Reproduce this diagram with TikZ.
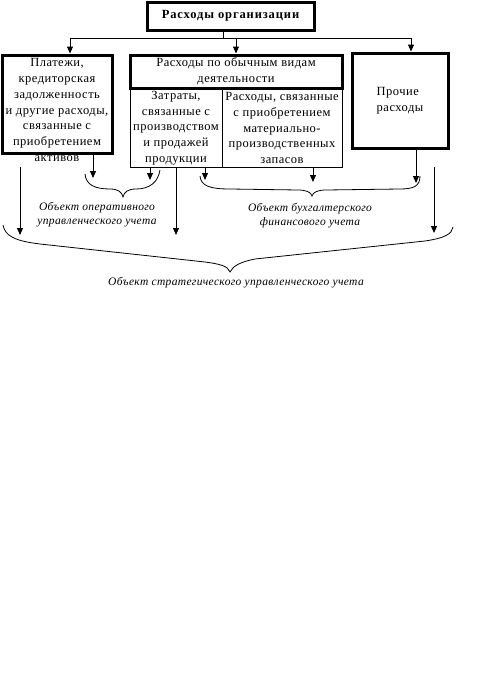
\documentclass[tikz,border=0pt]{standalone}
\usepackage{fontspec}
\setmainfont{Liberation Serif}
\usetikzlibrary{arrows.meta}

\tikzset{
  thickbox/.style={draw, line width=3pt, inner sep=0pt},
  thinbox/.style={draw, line width=1pt, inner sep=0pt},
  boxtext/.style={align=center, font=\fontsize{12.5}{15.7}\selectfont\addfontfeature{LetterSpace=4}},
  objtext/.style={align=center, font=\itshape\fontsize{11.5}{14}\selectfont\addfontfeature{LetterSpace=3}},
  arr/.style={-{Triangle[width=6pt,length=7pt]}, line width=1pt}
}

\begin{document}
\begin{tikzpicture}[x=1pt,y=-1pt]
\useasboundingbox (0,0) rectangle (497,680);
% top box and bus
\node[thickbox, minimum width=167pt, minimum height=28pt, boxtext, font=\bfseries\fontsize{12.5}{15}\selectfont\addfontfeature{LetterSpace=7}] (top) at (230.5,16) {Расходы организации};
\coordinate (bus) at (223,38);
\coordinate (busL) at (70,38);
\coordinate (busR) at (411,38);
\draw[line width=1pt] (top.south -| bus) -- (bus);
\draw[line width=1pt] (busL) -- (busR);

% left box (text first, the border covers the last line)
\node[boxtext] (paytext) at (57,110) {Платежи,\\кредиторская\\задолженность\\и другие расходы,\\связанные с\\приобретением\\активов};
\node[thickbox, minimum width=110pt, minimum height=98pt] (pay) at (57,104) {};

% middle box
\node[thinbox, boxtext, minimum width=92pt, minimum height=79pt] (cost) at (176,128) {Затраты,\\связанные с\\производством\\и продажей\\продукции};
\node[thinbox, boxtext, minimum width=120pt, minimum height=79pt] (stock) at (282,128) {Расходы, связанные\\с приобретением\\материально-\\производственных\\запасов};
\node[thickbox, boxtext, minimum width=212pt, minimum height=33pt] (ord) at (236,71.5) {Расходы по обычным видам\\деятельности};

% right box
\node[thickbox, boxtext, align=left, minimum width=96pt, minimum height=95pt] (other) at (400,100.5) {Прочие\\расходы};

\draw[arr] (busL) -- (busL |- pay.north);
\draw[arr] (busL -| ord) -- (ord.north);
\draw[arr] (busR) -- (busR |- other.north);

% arrows below the boxes
\coordinate (s1) at (20,167);
\coordinate (s8) at (434,167);
\coordinate (e1) at (20,235);
\coordinate (e2) at (93,178);
\coordinate (e3) at (150,180);
\coordinate (e4) at (176,235);
\coordinate (e5) at (205,180);
\coordinate (e6) at (313,182);
\coordinate (e7) at (416,183);
\coordinate (e8) at (434,233);
\draw[arr] (s1) -- (e1);
\draw[arr] (e2 |- pay.south) -- (e2);
\draw[arr] (e3 |- cost.south) -- (e3);
\draw[arr] (cost.south) -- (e4);
\draw[arr] (e5 |- stock.south) -- (e5);
\draw[arr] (e6 |- stock.south) -- (e6);
\draw[arr] (e7 |- other.south) -- (e7);
\draw[arr] (s8) -- (e8);

% braces
\draw[line width=0.8pt] (85,174) .. controls (86,185) and (95,189) .. (110,189)
  .. controls (118,189) and (122,192) .. (123,197)
  .. controls (124,192) and (128,189) .. (136,189)
  .. controls (150,189) and (158,182) .. (160,170);
\draw[line width=0.8pt] (200,176) .. controls (201,186) and (210,189) .. (230,189)
  -- (298,190) .. controls (306,190) and (311,192) .. (312,196)
  .. controls (313,192) and (318,190) .. (326,190)
  -- (400,189) .. controls (414,189) and (420,186) .. (420,176);
\draw[line width=0.8pt] (3,225) .. controls (5,236) and (15,241) .. (40,244)
  -- (205,262) .. controls (220,264) and (228,266) .. (230,272)
  .. controls (233,266) and (240,262) .. (255,259)
  -- (425,241) .. controls (445,238) and (452,234) .. (453,227);

% labels
\node[objtext] (oper) at (97,215) {Объект оперативного\\управленческого учета};
\node[objtext] (fin) at (310,216) {Объект бухгалтерского\\финансового учета};
\node[objtext] (strat) at (236,283) {Объект стратегического управленческого учета};
\end{tikzpicture}
\end{document}
